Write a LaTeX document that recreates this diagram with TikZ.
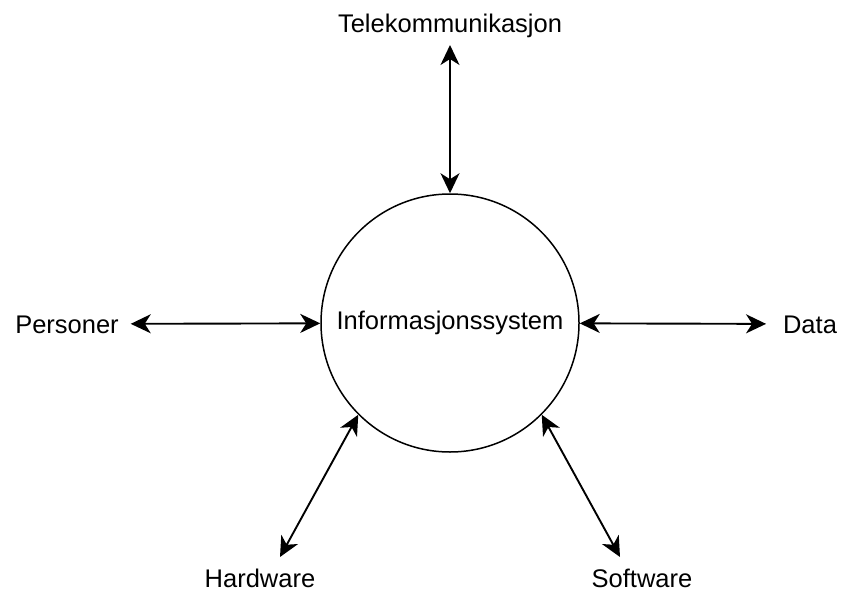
\documentclass[tikz,border=0pt]{standalone}
\usepackage{fontspec}
\setmainfont{Liberation Sans}
\usetikzlibrary{arrows.meta}
\tikzset{
  sysnode/.style={draw, circle, line width=1.5pt, minimum size=258pt, inner sep=0pt,
    font=\fontsize{25.5}{30}\selectfont},
  part/.style={inner sep=0pt, outer sep=12pt, text height=18pt, text depth=0pt,
    font=\fontsize{25.5}{30}\selectfont},
  link/.style={{Stealth[length=20pt,width=19pt,inset=6pt]}-{Stealth[length=20pt,width=19pt,inset=6pt]},
    line width=1.9pt},
}
\begin{document}
\begin{tikzpicture}[x=1pt,y=-1pt]
  \useasboundingbox (0,0) rectangle (842,591);
  \node[sysnode] (sys) at (450,323) {Informasjonssystem};
  \node[part] (tele) at (450,24) {Telekommunikasjon};
  \node[part] (pers) at (67,324) {Personer};
  \node[part] (data) at (810,324) {Data};
  \node[part] (hw) at (260,578) {Hardware};
  \node[part] (sw) at (642,578) {Software};
  \draw[link] (tele) -- (sys);
  \draw[link] (pers) -- (sys);
  \draw[link, shorten >=5pt] (sys) -- (data);
  \draw[link] (sys.225) -- ([xshift=20pt]hw.north);
  \draw[link] (sys.-45) -- ([xshift=-22pt]sw.north);
\end{tikzpicture}
\end{document}
